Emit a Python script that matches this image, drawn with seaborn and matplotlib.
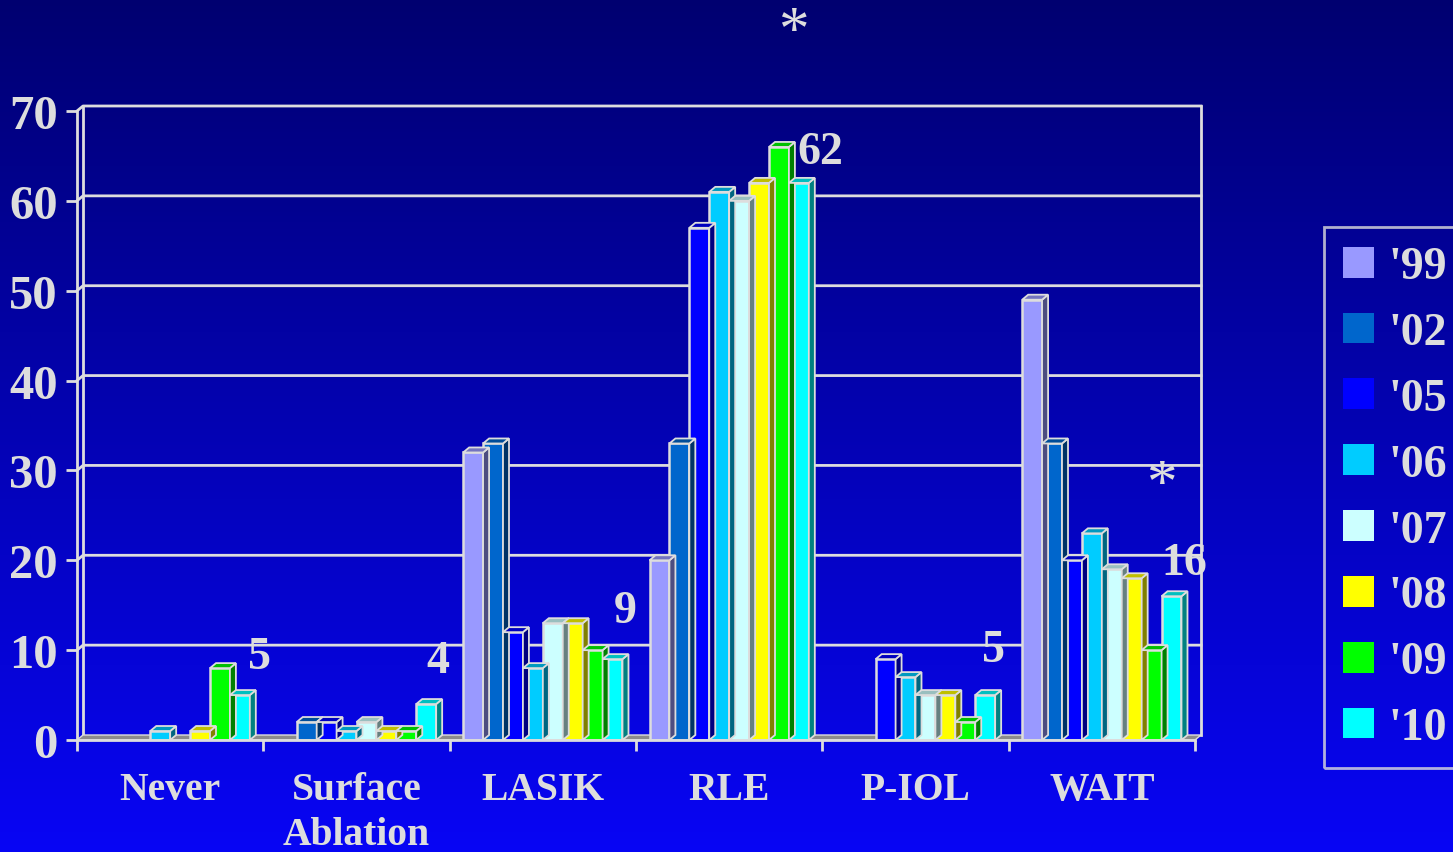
import numpy as np
import pandas as pd
import matplotlib.pyplot as plt
import seaborn as sns
from matplotlib.lines import Line2D
from matplotlib.patches import Polygon
from matplotlib.transforms import IdentityTransform

# data
categories = ["Never", "Surface\nAblation", "LASIK", "RLE", "P-IOL", "WAIT"]
years = ["'99", "'02", "'05", "'06", "'07", "'08", "'09", "'10"]
v99 = [0, 0, 32, 20, 0, 49]
v02 = [0, 2, 33, 33, 0, 33]
v05 = [0, 2, 12, 57, 9, 20]
v06 = [1, 1, 8, 61, 7, 23]
v07 = [0, 2, 13, 60, 5, 19]
v08 = [1, 1, 13, 62, 5, 18]
v09 = [8, 1, 10, 66, 2, 10]
v10 = [5, 4, 9, 62, 5, 16]
colors = ["#9999ff", "#0066cc", "#0000ff", "#00ccff", "#ccffff", "#ffff00", "#00ff00", "#00ffff"]

rows = []
for yr, vals in zip(years, [v99, v02, v05, v06, v07, v08, v09, v10]):
    for c, v in zip(categories, vals):
        rows.append({"cat": c, "year": yr, "val": v})
df = pd.DataFrame(rows)

W, H = 1453, 853
TXT = "#dddddd"
FONT = "Liberation Serif"
DX, DY = 6, 5

fig = plt.figure(figsize=(W / 100, H / 100), dpi=100)

# background gradient
bg = fig.add_axes([0, 0, 1, 1])
top = np.array([0.0, 0.0, 0.44])
bot = np.array([0.03, 0.02, 0.96])
t = np.linspace(0, 1, 256)[:, None]
grad = top + (bot - top) * t
bg.imshow(grad[:, None, :].repeat(2, axis=1), aspect="auto", extent=[0, 1, 0, 1])
bg.axis("off")

ax = fig.add_axes([77 / W, 1 - 741 / H, (1195 - 77) / W, (741 - 112) / H])
ax.patch.set_alpha(0)

sns.barplot(data=df, x="cat", y="val", hue="year", palette=colors, width=0.855,
            saturation=1, edgecolor=TXT, linewidth=1.8, ax=ax, zorder=3)
handles, labels = ax.get_legend_handles_labels()
ax.legend_.remove()

ax.set_xlim(-0.5, 5.5)
ax.set_ylim(0, 70)
ax.set_yticks(range(0, 71, 10))
ax.set_xlabel("")
ax.set_ylabel("")
for s in ["top", "right"]:
    ax.spines[s].set_visible(False)
for s in ["left", "bottom"]:
    ax.spines[s].set_color(TXT)
    ax.spines[s].set_linewidth(2)
    ax.spines[s].set_zorder(5)

ax.set_xticks(np.arange(-0.5, 6, 1), minor=True)
ax.tick_params(axis="x", which="major", length=0, pad=22)
ax.tick_params(axis="x", which="minor", length=8, width=2, color=TXT)
ax.tick_params(axis="y", length=8, width=2, color=TXT, pad=6)
for lab in ax.get_xticklabels():
    lab.set_fontfamily(FONT)
    lab.set_fontweight("bold")
    lab.set_fontsize(28.5)
    lab.set_color(TXT)
    lab.set_linespacing(1.3)
    lab.set_verticalalignment("top")
for lab in ax.get_yticklabels():
    lab.set_fontfamily(FONT)
    lab.set_fontweight("bold")
    lab.set_fontsize(35)
    lab.set_color(TXT)

# pseudo-3D walls, grid and floor in pixel space
idt = IdentityTransform()
x0p, y0p = ax.transData.transform((-0.5, 0))
x1p, _ = ax.transData.transform((5.5, 0))
_, y70p = ax.transData.transform((-0.5, 70))
floor = Polygon([[x0p, y0p], [x1p, y0p], [x1p + DX, y0p + DY], [x0p + DX, y0p + DY]],
                closed=True, facecolor="#8c8c8c", edgecolor=TXT, lw=1,
                transform=idt, zorder=2, clip_on=False)
ax.add_artist(floor)
for v in range(10, 71, 10):
    _, yp = ax.transData.transform((0, v))
    ax.add_artist(Line2D([x0p, x0p + DX, x1p + DX], [yp, yp + DY, yp + DY],
                         color=TXT, lw=2, transform=idt, zorder=1, clip_on=False))
for xp in [x0p + DX, x1p + DX]:
    ax.add_artist(Line2D([xp, xp], [y0p + DY, y70p + DY], color=TXT, lw=2,
                         transform=idt, zorder=1, clip_on=False))

# 3D faces on the bars
for patch in ax.patches:
    if not hasattr(patch, "get_height") or patch.get_height() <= 0:
        if hasattr(patch, "get_height"):
            patch.set_linewidth(0)
        continue
    bx, by = patch.get_x(), patch.get_height()
    bw = patch.get_width()
    fc = np.array(patch.get_facecolor()[:3])
    (l, b) = ax.transData.transform((bx, 0))
    (r, tp) = ax.transData.transform((bx + bw, by))
    topf = Polygon([[l, tp], [r, tp], [r + DX, tp + DY], [l + DX, tp + DY]], closed=True,
                   facecolor=fc * 0.75, edgecolor=TXT, lw=1.3, transform=idt, zorder=3,
                   clip_on=False)
    side = Polygon([[r, b], [r + DX, b + DY], [r + DX, tp + DY], [r, tp]], closed=True,
                   facecolor=fc * 0.5, edgecolor=TXT, lw=1.3, transform=idt, zorder=3,
                   clip_on=False)
    ax.add_artist(side)
    ax.add_artist(topf)

# value annotations
notes = [(0.48, 9.2, "5"), (1.435, 8.8, "4"), (2.44, 14.4, "9"),
         (3.49, 65.4, "62"), (4.42, 10.0, "5"), (5.44, 19.7, "16")]
for x, y, s in notes:
    ax.text(x, y, s, ha="center", va="center", fontsize=33, fontweight="bold",
            family=FONT, color=TXT, clip_on=False, zorder=6)
ax.text(5.32, 28.3, "*", ha="center", va="center", fontsize=44, family=FONT,
        color=TXT, clip_on=False, zorder=6)
fig.text(793 / W, 1 - 33 / H, "*", ha="center", va="center", fontsize=44,
         family=FONT, color=TXT)

leg = fig.legend(handles, labels, loc="upper left", bbox_to_anchor=(1324 / W, 1 - 228 / H),
                 frameon=True, fancybox=False, borderaxespad=0,
                 prop={"family": FONT, "weight": "bold", "size": 33},
                 handlelength=0.66, handleheight=0.66, handletextpad=0.33,
                 labelspacing=0.52, borderpad=0.42)
leg.get_frame().set_facecolor("none")
leg.get_frame().set_edgecolor(TXT)
leg.get_frame().set_linewidth(2)
for tx in leg.get_texts():
    tx.set_color(TXT)

fig.savefig("out.png", dpi=100)
